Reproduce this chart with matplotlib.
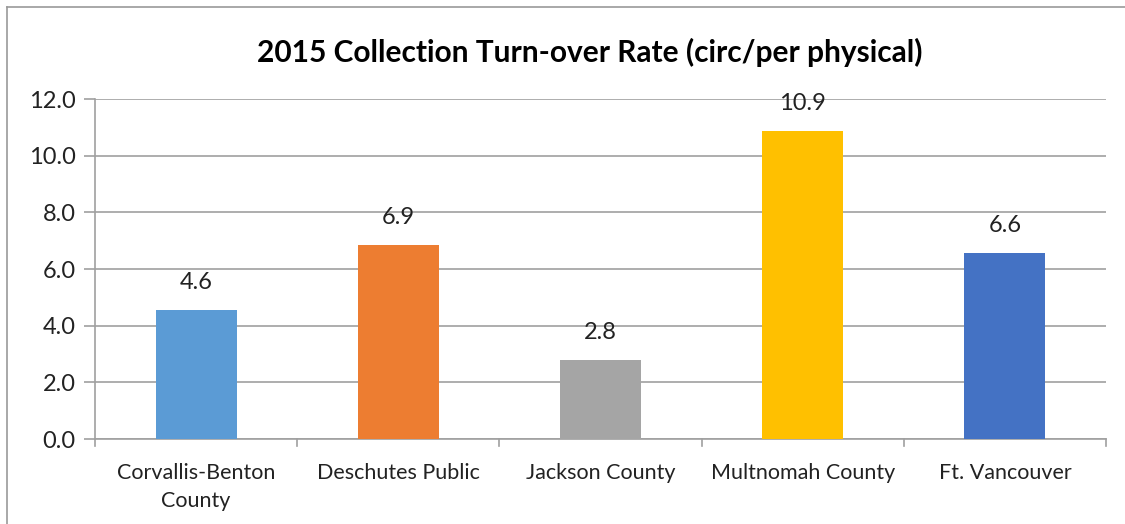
import numpy as np
import matplotlib
matplotlib.use("Agg")
import matplotlib.pyplot as plt
from matplotlib.lines import Line2D

# data
libraries = ["Corvallis-Benton\nCounty", "Deschutes Public", "Jackson County",
             "Multnomah County", "Ft. Vancouver"]
turnover = [4.56, 6.86, 2.80, 10.88, 6.56]
bar_colors = ["#5B9BD5", "#ED7D31", "#A5A5A5", "#FFC000", "#4472C4"]
y_ticks = [0, 2, 4, 6, 8, 10, 12]

plt.rcParams['font.family'] = ['Lato', 'DejaVu Sans']

W, H = 1125, 524
fig = plt.figure(figsize=(W / 100, H / 100), dpi=100)

# axes box in pixel terms
left, right, top, bottom = 95, 1106, 99, 439
ax = fig.add_axes([left / W, 1 - bottom / H, (right - left) / W, (bottom - top) / H])

x = np.arange(len(libraries))
ax.bar(x, turnover, width=0.4, color=bar_colors, zorder=3)

for xi, v in zip(x, turnover):
    ax.text(xi, v + 0.6, f"{v:.1f}", ha="center", va="bottom",
            fontsize=17, color="#222222", zorder=4)

ax.set_xlim(-0.5, len(libraries) - 0.5)
ax.set_ylim(0, 12)
ax.set_yticks(y_ticks)
ax.set_yticklabels([f"{t:.1f}" for t in y_ticks], fontsize=17, color="#222222")
ax.yaxis.grid(True, color="#A0A0A0", lw=1.2, zorder=0)

ax.set_xticks(x)
ax.set_xticklabels(libraries, fontsize=15.5, color="#222222", linespacing=1.5)
ax.tick_params(axis="x", length=0, pad=17)
ax.tick_params(axis="y", length=8, color="#A0A0A0", width=1.2, pad=6)

# category boundary ticks on the x axis
for b in np.arange(-0.5, len(libraries), 1.0):
    ax.plot([b, b], [0, -0.25], color="#A0A0A0", lw=1.2, clip_on=False, zorder=2)

for side in ["top", "right"]:
    ax.spines[side].set_visible(False)
ax.spines["left"].set_color("#A0A0A0")
ax.spines["left"].set_linewidth(1.2)
ax.spines["bottom"].set_color("#A0A0A0")
ax.spines["bottom"].set_linewidth(1.2)

fig.text(590 / W, 1 - 52 / H,
         "2015 Collection Turn-over Rate (circ/per physical)",
         ha="center", va="center", fontsize=21.5, fontweight="bold", color="black")

# outer chart border (left and top visible)
fig.add_artist(Line2D([7 / W, 7 / W], [0, 1 - 7 / H], color="#9A9A9A", lw=1.2))
fig.add_artist(Line2D([7 / W, 1], [1 - 7 / H, 1 - 7 / H], color="#9A9A9A", lw=1.2))

fig.savefig("out.png", dpi=100)
